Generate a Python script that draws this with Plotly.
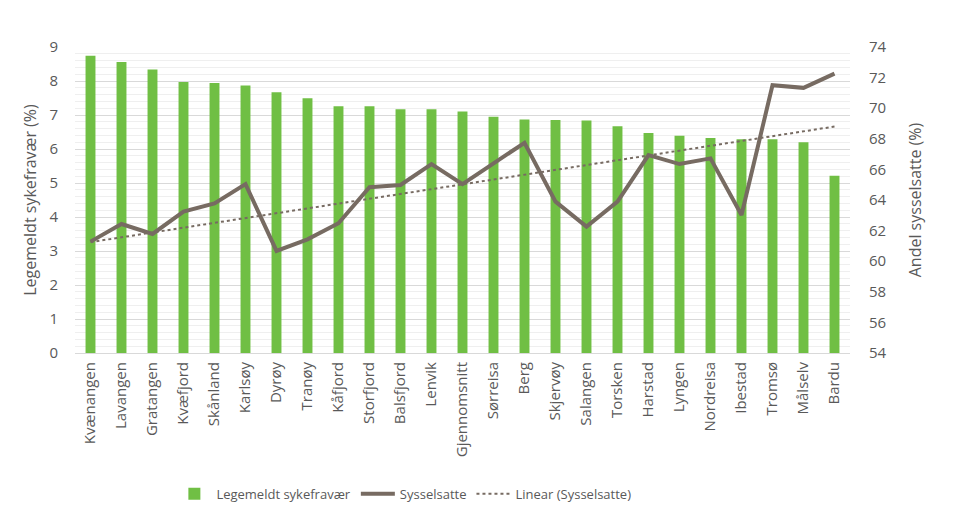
import numpy as np
import plotly.graph_objects as go

categories = ["Kvænangen", "Lavangen", "Gratangen", "Kvæfjord", "Skånland", "Karlsøy", "Dyrøy",
              "Tranøy", "Kåfjord", "Storfjord", "Balsfjord", "Lenvik", "Gjennomsnitt", "Sørreisa",
              "Berg", "Skjervøy", "Salangen", "Torsken", "Harstad", "Lyngen", "Nordreisa", "Ibestad",
              "Tromsø", "Målselv", "Bardu"]
sykefravaer = [8.74, 8.56, 8.34, 7.97, 7.94, 7.87, 7.67, 7.49, 7.26, 7.26, 7.17, 7.17, 7.10, 6.95,
               6.87, 6.85, 6.84, 6.67, 6.47, 6.39, 6.32, 6.29, 6.29, 6.20, 5.21]
sysselsatte = [61.28, 62.43, 61.78, 63.24, 63.78, 65.04, 60.67, 61.43, 62.48, 64.83, 64.98, 66.35,
               65.04, 66.39, 67.74, 63.89, 62.26, 63.89, 66.93, 66.35, 66.72, 63.02, 71.5, 71.33, 72.26]

# Excel-style linear trendline of Sysselsatte
xi = np.arange(1, len(sysselsatte) + 1)
slope, intercept = np.polyfit(xi, sysselsatte, 1)
trend = (slope * xi + intercept).tolist()

GREEN = "#70bf44"
LINE = "#776b62"
TXT = "#595959"
FONT = "Open Sans"

fig = go.Figure()
fig.add_trace(go.Bar(x=categories, y=sykefravaer, name="Legemeldt sykefravær",
                     marker=dict(color=GREEN, line=dict(width=0)), yaxis="y"))
fig.add_trace(go.Scatter(x=categories, y=sysselsatte, name="Sysselsatte", mode="lines",
                         line=dict(color=LINE, width=4), yaxis="y2"))
fig.add_trace(go.Scatter(x=categories, y=trend, name="Linear (Sysselsatte)", mode="lines",
                         line=dict(color=LINE, width=2, dash="dot"), yaxis="y2"))

fig.update_layout(
    width=953, height=505,
    margin=dict(l=67, r=111, t=39, b=160, autoexpand=False),
    paper_bgcolor="white", plot_bgcolor="white",
    font=dict(family=FONT, color=TXT, size=14),
    bargap=0.68,
    showlegend=True,
    legend=dict(orientation="h", x=0.425, xanchor="center", y=-0.46, yanchor="middle",
                font=dict(size=13, color=TXT), traceorder="normal", itemwidth=34),
    xaxis=dict(tickangle=-90, tickfont=dict(size=15, color=TXT), showgrid=False,
               showline=True, linecolor="#d9d9d9", linewidth=1, ticks="", automargin=False,
               ticklabelstandoff=2),
    yaxis=dict(range=[0, 9], dtick=1, tickfont=dict(size=15, color=TXT), automargin=False,
               title=dict(text="Legemeldt sykefravær (%)", font=dict(size=16, color=TXT), standoff=8),
               showgrid=True, gridcolor="#d9d9d9", gridwidth=1, zeroline=False,
               minor=dict(dtick=0.2, showgrid=True, gridcolor="#efefef", gridwidth=1),
               ticks="", showline=False, ticklabelstandoff=16),
    yaxis2=dict(range=[54, 74], dtick=2, overlaying="y", side="right", automargin=False,
                tickfont=dict(size=15, color=TXT),
                title=dict(text="Andel sysselsatte (%)", font=dict(size=16, color=TXT), standoff=24),
                showgrid=False, zeroline=False, ticks="", showline=False, ticklabelstandoff=18),
)

fig.write_html("out.html")
